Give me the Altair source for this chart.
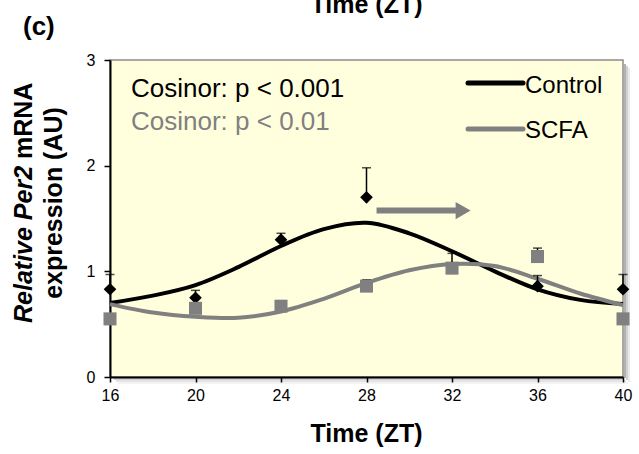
import altair as alt
import pandas as pd

# ---------------- data ----------------
time_pts = [16, 20, 24, 28, 32, 36, 40]
control_mean = [0.83, 0.75, 1.30, 1.70, 1.04, 0.86, 0.83]
control_upper = [0.97, 0.82, 1.36, 1.98, 1.17, 0.96, 0.97]
scfa_mean = [0.55, 0.65, 0.67, 0.86, 1.03, 1.14, 0.55]
scfa_upper = [0.57, 0.70, 0.72, 0.92, 1.08, 1.22, 0.57]

curve_time = [16, 18, 20, 22, 24, 26, 28, 30, 32, 34, 36, 38, 40]
control_fit = [0.70, 0.77, 0.87, 1.04, 1.24, 1.40, 1.46, 1.36, 1.19, 1.00, 0.83, 0.73, 0.69]
scfa_fit = [0.69, 0.61, 0.57, 0.56, 0.62, 0.74, 0.89, 1.01, 1.07, 1.05, 0.93, 0.79, 0.68]

arrow_x = [28.47, 32.2]
arrow_head_x = [32.52]
arrow_y = [1.575]

x_ticks = [16, 20, 24, 28, 32, 36, 40]
y_ticks = [0, 1, 2, 3]
series_names = ["Control", "SCFA"]
cosinor_labels = ["Cosinor: p < 0.001", "Cosinor: p < 0.01"]
x_title = "Time (ZT)"
panel_label = "(c)"
y_title_italic = "Relative Per2"
y_title_rest = "mRNA"
y_title_line2 = "expression (AU)"

# ---------------- styling ----------------
FONT = "Liberation Sans"
W, H = 513, 317
BLACK = "#000000"
GRAY = "#808080"
BG = "#FFFFDD"

x_scale = alt.Scale(domain=[16, 40], nice=False, zero=False)
y_scale = alt.Scale(domain=[0, 3], nice=False)

x_axis = alt.Axis(values=x_ticks, title=None, grid=False, labelFont=FONT,
                  labelFontSize=16, labelColor=BLACK, labelPadding=5,
                  tickColor=BLACK, tickSize=5, tickWidth=1.5,
                  domainColor=BLACK, domainWidth=2, labelFlush=False)
y_axis = alt.Axis(values=y_ticks, title=None, grid=False, labelFont=FONT,
                  labelFontSize=16, labelColor=BLACK, labelPadding=9,
                  tickColor=BLACK, tickSize=6, tickWidth=1.5,
                  domainColor=BLACK, domainWidth=2)

X = alt.X("t:Q", scale=x_scale, axis=x_axis)
Y = alt.Y("v:Q", scale=y_scale, axis=y_axis)
YUP = alt.Y("up:Q", scale=y_scale, axis=y_axis)

ctrl_curve = pd.DataFrame({"t": curve_time, "v": control_fit})
scfa_curve = pd.DataFrame({"t": curve_time, "v": scfa_fit})
ctrl = pd.DataFrame({"t": time_pts, "v": control_mean, "up": control_upper})
scfa = pd.DataFrame({"t": time_pts, "v": scfa_mean, "up": scfa_upper})

one = pd.DataFrame({"k": [0]})

# soft shadow strips outside the plot area (right and bottom)
shadow_layers = []
for i, op in enumerate([0.30, 0.18, 0.08]):
    shadow_layers.append(
        alt.Chart(one).mark_rect(color="#000000", opacity=op).encode(
            x=alt.value(W + 1 + 2 * i), x2=alt.value(W + 3 + 2 * i),
            y=alt.value(4 + 2 * i), y2=alt.value(H + 1 + 2 * i)))
    shadow_layers.append(
        alt.Chart(one).mark_rect(color="#000000", opacity=op * 0.6).encode(
            x=alt.value(4 + 2 * i), x2=alt.value(W + 1 + 2 * i),
            y=alt.value(H + 1 + 2 * i), y2=alt.value(H + 3 + 2 * i)))

line_ctrl = alt.Chart(ctrl_curve).mark_line(
    color=BLACK, strokeWidth=4, interpolate="catmull-rom").encode(x=X, y=Y)
line_scfa = alt.Chart(scfa_curve).mark_line(
    color=GRAY, strokeWidth=4, interpolate="catmull-rom").encode(x=X, y=Y)

err_ctrl = alt.Chart(ctrl).mark_rule(color=BLACK, strokeWidth=1.5).encode(
    x=X, y=Y, y2="up:Q")
cap_ctrl = alt.Chart(ctrl).mark_tick(color=BLACK, thickness=1.5, size=9,
                                     orient="horizontal").encode(x=X, y=YUP)
err_scfa = alt.Chart(scfa).mark_rule(color=BLACK, strokeWidth=1.5).encode(
    x=X, y=Y, y2="up:Q")
cap_scfa = alt.Chart(scfa).mark_tick(color=BLACK, thickness=1.5, size=9,
                                     orient="horizontal").encode(x=X, y=YUP)

pts_ctrl = alt.Chart(ctrl).mark_point(shape="diamond", filled=True, size=160,
                                      color=BLACK, opacity=1).encode(x=X, y=Y)
pts_scfa = alt.Chart(scfa).mark_point(shape="square", filled=True, size=170,
                                      color=GRAY, opacity=1).encode(x=X, y=Y)

arrow_df = pd.DataFrame({"t": [arrow_x[0]], "t2": [arrow_x[1]], "v": arrow_y})
arrow_shaft = alt.Chart(arrow_df).mark_rule(color=GRAY, strokeWidth=6).encode(
    x=X, x2="t2:Q", y=Y)
arrow_head = alt.Chart(pd.DataFrame({"t": arrow_head_x, "v": arrow_y})).mark_point(
    shape="triangle-right", filled=True, size=300, color=GRAY, opacity=1).encode(x=X, y=Y)


def txt(s, x, y, size, color=BLACK, weight="normal", style="normal",
        align="left", baseline="alphabetic", angle=0):
    return alt.Chart(pd.DataFrame({"label": [s]})).mark_text(
        font=FONT, fontSize=size, color=color, fontWeight=weight,
        fontStyle=style, align=align, baseline=baseline, angle=angle).encode(
        x=alt.value(x), y=alt.value(y), text="label:N")


texts = [
    txt(cosinor_labels[0], 21, 37, 26, BLACK),
    txt(cosinor_labels[1], 21, 70, 26, GRAY),
    txt(series_names[0], 415, 33, 24, BLACK),
    txt(series_names[1], 415, 78, 24, BLACK),
    txt(x_title, W / 2, 382, 25, BLACK, weight="bold", align="center"),
    txt(x_title, W / 2, -47, 25, BLACK, weight="bold", align="center"),
    txt(panel_label, -87, -25, 26, BLACK, weight="bold"),
    txt(y_title_italic, -78, 263, 25, BLACK, weight="bold", style="italic", angle=270),
    txt(y_title_rest, -78, 99, 25, BLACK, weight="bold", angle=270),
    txt(y_title_line2, -48, 143, 25, BLACK, weight="bold", align="center", angle=270),
]

legend_lines = [
    alt.Chart(one).mark_rule(color=BLACK, strokeWidth=5, strokeCap="round").encode(
        x=alt.value(358), x2=alt.value(413), y=alt.value(23)),
    alt.Chart(one).mark_rule(color=GRAY, strokeWidth=5, strokeCap="round").encode(
        x=alt.value(358), x2=alt.value(413), y=alt.value(69)),
]

chart = alt.layer(
    *shadow_layers, line_ctrl, line_scfa, err_ctrl, cap_ctrl, err_scfa, cap_scfa,
    pts_ctrl, pts_scfa, arrow_shaft, arrow_head, *legend_lines, *texts
).properties(
    width=W, height=H,
    padding={"left": 110, "top": 60, "right": 16, "bottom": 77},
    autosize=alt.AutoSizeParams(type="none"),
).configure_view(fill=BG, stroke="#8c8c8c", strokeWidth=1.5)

chart.save("out.html", embed_options={"renderer": "svg", "actions": False})
